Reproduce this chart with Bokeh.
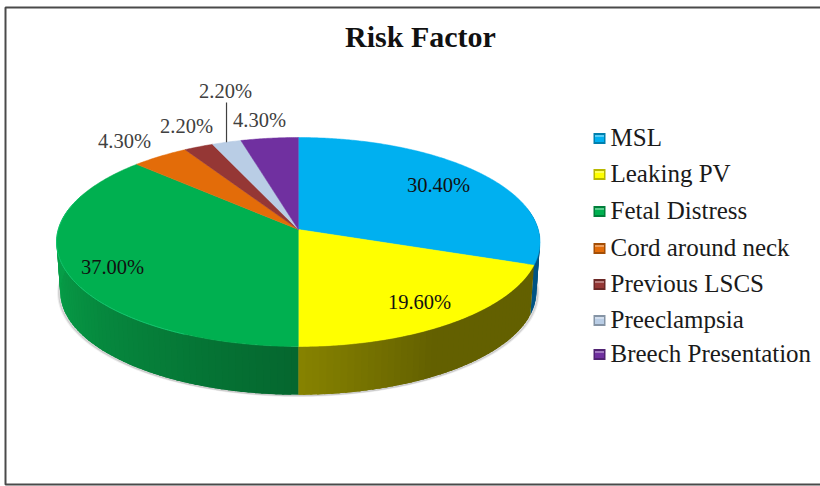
import math
from bokeh.plotting import figure
from bokeh.embed import file_html
from bokeh.resources import INLINE
from bokeh.core.properties import value

# ---- data ----
title = "Risk Factor"
categories = ["MSL", "Leaking PV", "Fetal Distress", "Cord around neck",
              "Previous LSCS", "Preeclampsia", "Breech Presentation"]
shares = [30.4, 19.6, 37.0, 4.3, 2.2, 2.2, 4.3]
labels = ["30.40%", "19.60%", "37.00%", "4.30%", "2.20%", "2.20%", "4.30%"]
colors = [(0, 176, 240), (255, 255, 0), (0, 176, 80), (227, 108, 9),
          (149, 55, 53), (185, 205, 229), (112, 48, 160)]

# ---- layout (page pixels) ----
label_x = [438, 419, 112, 124, 186, 225, 259]
label_y = [184, 301, 266, 140, 125, 90, 119]
label_col = ["#111111", "#111111", "#111111", "#404040", "#404040", "#404040", "#404040"]
legend_y = [137, 173, 210, 247, 283, 319, 353]
CX, CY = 297.8, 229.0     # apex of the pie on the page
R, RY, K = 240.0, 103.0, 0.1196   # perspective of the disc
DEPTH, SHRINK = 50.0, 0.985

def hex_(c):
    return "#%02x%02x%02x" % tuple(max(0, min(255, int(round(v)))) for v in c)

def top_pt(deg):
    t = math.radians(deg)
    d = 1 + K * math.cos(t)
    return CX + R * math.sin(t) / d, CY - RY * math.cos(t) / d

def bot_pt(deg):
    x, y = top_pt(deg)
    return CX + (x - CX) * SHRINK, CY + (y - CY) * SHRINK + DEPTH

def arc(a, b, step=0.5):
    n = max(2, int(abs(b - a) / step) + 1)
    return [a + (b - a) * i / (n - 1) for i in range(n)]

p = figure(width=820, height=486, x_range=(0, 820), y_range=(486, 0),
           x_axis_type=None, y_axis_type=None, toolbar_location=None,
           output_backend="svg", min_border=0, outline_line_color=None)
p.grid.visible = False
p.background_fill_color = "white"
p.border_fill_color = "white"

# frame of the picture
p.line([820, 5, 5, 820], [7, 7, 484, 484], line_color="#4a4a4a", line_width=2)

# wedge angle limits
edges = [0.0]
for s in shares:
    edges.append(edges[-1] + s * 3.6)

# soft shadow below the wall
for off, alpha in ((2.0, 0.1), (1.0, 0.22)):
    angs = arc(78, 282, 1.0)
    sx = [CX + (bot_pt(a)[0] - CX) * (1 + off / 240) for a in angs]
    sy = [bot_pt(a)[1] + off * 0.6 for a in angs]
    p.line(sx, sy, line_color="#555555", line_alpha=alpha, line_width=2)

# side wall, in thin overlapping strips shaded along the rim
def wall_colour(i, a):
    c = colors[i]
    if i == 0:
        return (0, 84, 132)
    if i == 1:   # lighter next to the seam, flat further to the right
        f = 0.53 - 0.14 * min(1.0, (180 - a) / 30.0)
        return (c[0] * f, c[1] * f * 0.97, 0)
    if i == 2:   # bright on the left, dark at the front seam
        f = 0.58 + 0.32 * min(1.0, (a - 180) / 80.0)
        return (8 * f, c[1] * f, c[2] * f)
    return tuple(v * 0.5 for v in c)

xs, ys, fc = [], [], []
for i in range(3):
    a0, a1 = max(edges[i], 78), min(edges[i + 1], 282)
    ang = arc(a0, a1, 1.5)
    for u, v in zip(ang[:-1], ang[1:]):
        w = min(a1, v + 2.0)      # overlap the next strip to hide seams
        t0, t1, b1, b0 = top_pt(u), top_pt(w), bot_pt(w), bot_pt(u)
        xs.append([t0[0], t1[0], b1[0], b0[0]])
        ys.append([t0[1], t1[1], b1[1], b0[1]])
        fc.append(hex_(wall_colour(i, (u + v) / 2)))
p.patches(xs, ys, fill_color=fc, line_color=None)

# top face
xs, ys, fc = [], [], []
for i in range(len(shares)):
    pts = [top_pt(a) for a in arc(edges[i], edges[i + 1])]
    xs.append([CX] + [q[0] for q in pts])
    ys.append([CY] + [q[1] for q in pts])
    fc.append(hex_(colors[i]))
p.patches(xs, ys, fill_color=fc, line_color=fc, line_width=0.5)

# light rim on the front of the green slice
rim = [top_pt(a) for a in arc(205, 290, 1.0)]
p.line([q[0] for q in rim], [q[1] for q in rim], line_color="#14c46e", line_width=1)

# leader line of the sixth label
lead = top_pt((edges[5] + edges[6]) / 2)
p.line([lead[0], lead[0]], [label_y[5] + 12, lead[1]], line_color="#404040", line_width=1.2)

# data labels
p.text(label_x, label_y, text=labels, text_color=label_col,
       text_font=value("Liberation Serif"), text_font_size="20.5px",
       text_align="center", text_baseline="middle")

# title
p.text([420], [36], text=[title], text_color="#111111",
       text_font=value("Liberation Serif"), text_font_style="bold",
       text_font_size="30px", text_align="center", text_baseline="middle")

# legend
for i, name in enumerate(categories):
    c = colors[i]
    y = legend_y[i] + 1
    p.rect([599], [y], width=12, height=11, fill_color=hex_(tuple(v * 0.72 for v in c)), line_color=None)
    p.rect([599], [y], width=9, height=7, fill_color=hex_(c), line_color=None)
    p.rect([599], [y - 2.5], width=9, height=2, fill_color=hex_(tuple(v + (255 - v) * 0.35 for v in c)), line_color=None)
p.text([610] * len(categories), legend_y, text=categories, text_color="#1a1a1a",
       text_font=value("Liberation Serif"), text_font_size="25px",
       text_align="left", text_baseline="middle")

open("out.html", "w").write(file_html(p, INLINE))
